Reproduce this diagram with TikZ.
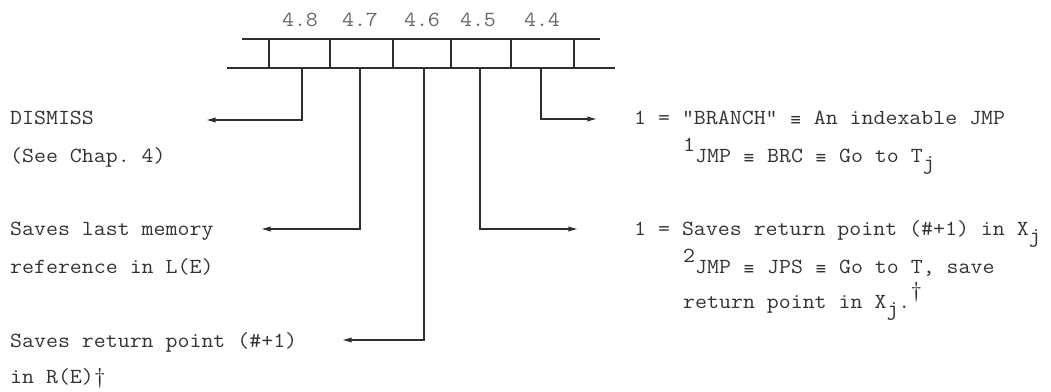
\documentclass[tikz,border=0pt]{standalone}
\usepackage{fontspec}
\newfontfamily\monofnt[FakeStretch=1.08]{Latin Modern Mono}
\newfontfamily\symfnt{DejaVu Sans Mono}
\usetikzlibrary{arrows.meta}
\newcommand\rsup[1]{\raisebox{0.5em}{#1}}
\newcommand\rsub[1]{\raisebox{-0.35em}{#1}}
\newcommand\eqv{\makebox[0.567em][c]{\raisebox{-0.05em}{\symfnt\fontsize{17}{20}\selectfont ≡}}}
\begin{document}
\frenchspacing
\begin{tikzpicture}[x=1pt,y=-1pt,
  txt/.style={anchor=base west, inner sep=0pt, font=\monofnt\fontsize{21.5}{26}\selectfont, text=black!80},
  lab/.style={anchor=base, inner sep=0pt, font=\monofnt\fontsize{21.5}{26}\selectfont, text=black!60},
  reg/.style={line width=1.4pt, draw=black!82},
  arr/.style={line width=1.4pt, draw=black!82, -{Stealth[length=9pt,width=5pt,inset=1.5pt]}}]
\useasboundingbox (0,0) rectangle (1051,391);

% register
\coordinate (topL) at (242,39);
\coordinate (topR) at (600,39);
\coordinate (botL) at (227,68);
\coordinate (botR) at (615,68);
\draw[reg] (topL) -- (topR);
\draw[reg] (botL) -- (botR);
\foreach \x in {269,330,393,451,511,574}
  \draw[reg] (\x,39) -- (\x,68);

% bit labels
\node[lab] (b48) at (300,26) {4.8};
\node[lab] (b47) at (360,26) {4.7};
\node[lab] (b46) at (422,26) {4.6};
\node[lab] (b45) at (478,26) {4.5};
\node[lab] (b44) at (542,26) {4.4};

% drop points and arrow tips
\coordinate (d48) at (302,68);
\coordinate (d47) at (360,68);
\coordinate (d46) at (424,68);
\coordinate (d45) at (480,68);
\coordinate (d44) at (541,68);
\coordinate (t48) at (207,120);
\coordinate (t47) at (262,229);
\coordinate (t46) at (343,340);
\coordinate (t45) at (577,229);
\coordinate (t44) at (596,119);

\draw[arr] (d48) |- (t48);
\draw[arr] (d47) |- (t47);
\draw[arr] (d46) |- (t46);
\draw[arr] (d45) |- (t45);
\draw[arr] (d44) |- (t44);

% left texts
\node[txt] (L1a) at (10,124) {DISMISS};
\node[txt] (L1b) at (10,162) {(See Chap. 4)};
\node[txt] (L2a) at (10,235) {Saves last memory};
\node[txt] (L2b) at (10,273) {reference in L(E)};
\node[txt] (L3a) at (10,347) {Saves return point (\#+1)};
\node[txt] (L3b) at (10,383) {in R(E)\textdagger};

% right texts
\node[txt] (R1a) at (634,124) {1 = "BRANCH" \eqv{} An indexable JMP};
\node[txt] (R1b) at (683,162) {\rsup{1}JMP \eqv{} BRC \eqv{} Go to T\rsub{j}};
\node[txt] (R2a) at (634,235) {1 = Saves return point (\#+1) in X\rsub{j}};
\node[txt] (R2b) at (683,273) {\rsup{2}JMP \eqv{} JPS \eqv{} Go to T, save};
\node[txt] (R2c) at (683,308) {return point in X\rsub{j}.\rsup{\textdagger}};
\end{tikzpicture}
\end{document}
